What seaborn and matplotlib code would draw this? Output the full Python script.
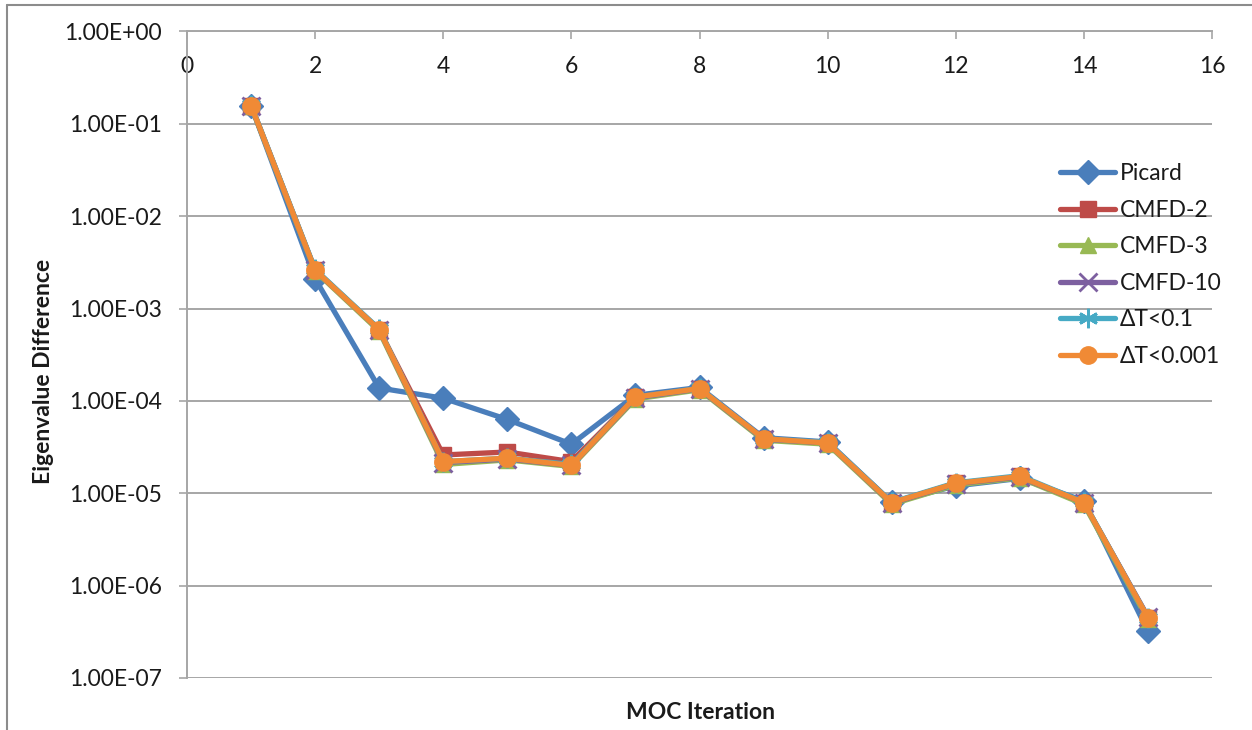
import matplotlib
matplotlib.use("Agg")
import matplotlib.pyplot as plt
from matplotlib.lines import Line2D
from matplotlib.ticker import FuncFormatter, FixedLocator, NullLocator
import seaborn as sns
import pandas as pd

iterations = [1, 2, 3, 4, 5, 6, 7, 8, 9, 10, 11, 12, 13, 14, 15]
picard   = [0.158, 2.1e-3, 1.38e-4, 1.07e-4, 6.3e-5, 3.4e-5, 1.15e-4, 1.40e-4, 4.0e-5, 3.6e-5, 8.0e-6, 1.20e-5, 1.45e-5, 8.3e-6, 3.2e-7]
cmfd2    = [0.158, 2.6e-3, 5.9e-4, 2.6e-5, 2.8e-5, 2.2e-5, 1.10e-4, 1.36e-4, 3.9e-5, 3.5e-5, 7.9e-6, 1.28e-5, 1.52e-5, 7.9e-6, 4.5e-7]
cmfd3    = [0.155, 2.55e-3, 5.7e-4, 2.05e-5, 2.3e-5, 1.95e-5, 1.05e-4, 1.32e-4, 3.75e-5, 3.4e-5, 7.6e-6, 1.23e-5, 1.47e-5, 7.6e-6, 4.3e-7]
cmfd10   = [0.158, 2.6e-3, 5.9e-4, 2.15e-5, 2.35e-5, 2.0e-5, 1.08e-4, 1.35e-4, 3.85e-5, 3.5e-5, 7.8e-6, 1.27e-5, 1.50e-5, 7.9e-6, 4.6e-7]
dt01     = [0.160, 2.65e-3, 6.0e-4, 2.2e-5, 2.4e-5, 2.05e-5, 1.10e-4, 1.37e-4, 3.9e-5, 3.55e-5, 8.0e-6, 1.30e-5, 1.55e-5, 8.0e-6, 4.5e-7]
dt0001   = [0.158, 2.6e-3, 5.9e-4, 2.2e-5, 2.4e-5, 2.0e-5, 1.10e-4, 1.36e-4, 3.9e-5, 3.5e-5, 7.9e-6, 1.28e-5, 1.52e-5, 7.9e-6, 4.5e-7]

series_names = ["Picard", "CMFD-2", "CMFD-3", "CMFD-10", "\u0394T<0.1", "\u0394T<0.001"]
series_values = [picard, cmfd2, cmfd3, cmfd10, dt01, dt0001]
colors = ["#4A7EBB", "#BE4B48", "#98B954", "#7D60A0", "#46AAC5", "#F08A35"]
markers = ["D", "s", "^", "x", (6, 2, 0), "o"]
msizes = [12, 11, 12, 13, 14, 12.5]

x_ticks = [0, 2, 4, 6, 8, 10, 12, 14, 16]
y_ticks = [1e0, 1e-1, 1e-2, 1e-3, 1e-4, 1e-5, 1e-6, 1e-7]

sns.set_style("white")
plt.rcParams["font.family"] = ["Lato", "DejaVu Sans"]

W, H = 1252, 730
fig = plt.figure(figsize=(W / 100, H / 100), dpi=100)
ax = fig.add_axes([187 / W, 1 - 678 / H, (1212 - 187) / W, (678 - 31.5) / H])

df = pd.DataFrame({
    "iter": iterations * len(series_names),
    "val": [v for vals in series_values for v in vals],
    "series": [n for n, vals in zip(series_names, series_values) for _ in vals],
})

for name, c, m, ms in zip(series_names, colors, markers, msizes):
    sub = df[df["series"] == name]
    mew = 2.0 if m in ("x", (6, 2, 0)) else 1.0
    sns.lineplot(data=sub, x="iter", y="val", ax=ax, color=c, marker=m,
                 markersize=ms, markeredgecolor=c, markerfacecolor=c,
                 markeredgewidth=mew, linewidth=3.8, label=name,
                 estimator=None, sort=False)

ax.set_yscale("log")
ax.set_ylim(1e-7, 1e0)
ax.set_xlim(0, 16)

grid_c = "#A6A6A6"
ax.yaxis.set_major_locator(FixedLocator(y_ticks))
ax.yaxis.set_minor_locator(NullLocator())
ax.yaxis.set_major_formatter(FuncFormatter(lambda v, p: f"{v:.2E}"))
ax.xaxis.set_major_locator(FixedLocator(x_ticks))
ax.grid(axis="y", color=grid_c, linewidth=1.4)
ax.grid(axis="x", visible=False)
ax.set_axisbelow(True)

for s in ["right", "bottom"]:
    ax.spines[s].set_visible(False)
for s in ["left", "top"]:
    ax.spines[s].set_color(grid_c)
    ax.spines[s].set_linewidth(1.4)

ax.tick_params(axis="y", which="major", left=True, direction="out", length=6,
               width=1.2, color=grid_c, pad=12, labelsize=16.5, labelcolor="#1a1a1a")
ax.tick_params(axis="x", which="major", top=True, labeltop=True, bottom=False,
               labelbottom=False, direction="in", length=6, width=1.2,
               color=grid_c, pad=-33, labelsize=16.5, labelcolor="#1a1a1a")

ax.set_xlabel("MOC Iteration", fontsize=16.5, fontweight="bold", color="#1a1a1a")
ax.set_ylabel("Eigenvalue Difference", fontsize=16.5, fontweight="bold", color="#1a1a1a")
ax.xaxis.set_label_position("bottom")
ax.xaxis.set_label_coords((700 - 187) / 1025, -(702 - 678) / 646.5)
ax.yaxis.set_label_coords((54 - 187) / 1025, 1 - (371 - 31.5) / 646.5)

ax.legend(loc="upper left", bbox_to_anchor=(1060 / W, 1 - 163 / H),
          bbox_transform=fig.transFigure, frameon=False, fontsize=16.5,
          handlelength=2.4, handletextpad=0.2, labelspacing=0.68,
          borderpad=0, borderaxespad=0, labelcolor="#1a1a1a")

# outer chart border (top and left)
border_c = "#8C8C8C"
fig.add_artist(Line2D([7 / W, 1], [1 - 5 / H, 1 - 5 / H], transform=fig.transFigure,
                      color=border_c, linewidth=1.5))
fig.add_artist(Line2D([7 / W, 7 / W], [0, 1 - 5 / H], transform=fig.transFigure,
                      color=border_c, linewidth=1.5))

fig.savefig("out.png", dpi=100)
